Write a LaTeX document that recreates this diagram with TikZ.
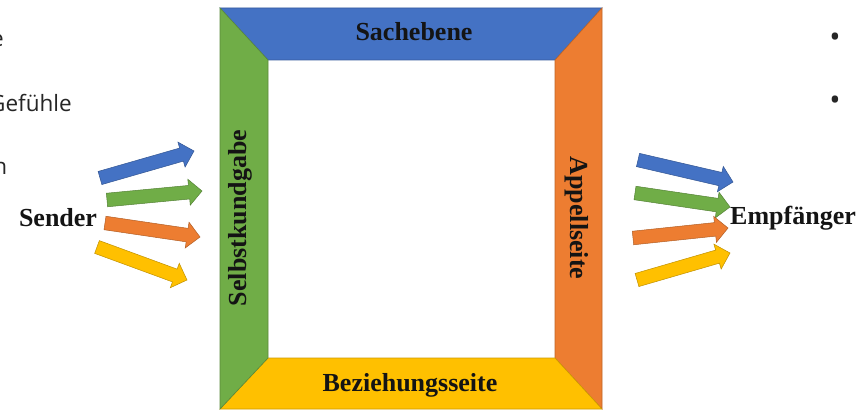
\documentclass[tikz,border=0pt]{standalone}
\usepackage{fontspec}
\setmainfont{Liberation Serif}
\newfontfamily\sansfnt{Open Sans}
\usetikzlibrary{calc}
\definecolor{cblue}{HTML}{4472C4}
\definecolor{cgreen}{HTML}{70AD47}
\definecolor{corange}{HTML}{ED7D31}
\definecolor{cyellow}{HTML}{FFC000}
\tikzset{
  lbl/.style={font=\fontsize{26}{30}\selectfont\bfseries, inner sep=0pt, text=black!92},
  frag/.style={font=\sansfnt\fontsize{22.5}{26}\selectfont, inner sep=0pt, text=black!85, anchor=base east},
  bul/.style={font=\sansfnt\fontsize{30}{34}\selectfont, inner sep=0pt, text=black!85},
  band/.style={fill=#1, draw=#1!80!black, line width=0.6pt, line join=miter},
}
\newcommand\fatarrow[3]{%
  \coordinate (fH) at ($(#2)!13pt!(#1)$);
  \filldraw[fill=#3, draw=#3!75!black, line width=0.5pt, line join=miter]
    ($(#1)!6.8pt!-90:(#2)$) -- ($(fH)!6.8pt!90:(#1)$) -- ($(fH)!13pt!90:(#1)$)
    -- (#2) -- ($(fH)!13pt!-90:(#1)$) -- ($(fH)!6.8pt!-90:(#1)$)
    -- ($(#1)!6.8pt!90:(#2)$) -- cycle;
}
\begin{document}
\begin{tikzpicture}[x=1pt,y=-1pt]
\useasboundingbox (0,0) rectangle (858,411);
\clip (0,0) rectangle (858,411);
\fill[white] (0,0) rectangle (858,411);
% frame corners
\coordinate (O1) at (220,8);
\coordinate (O2) at (602,8);
\coordinate (O3) at (602,409);
\coordinate (O4) at (220,409);
\coordinate (I1) at (268,60);
\coordinate (I2) at (555,60);
\coordinate (I3) at (555,358);
\coordinate (I4) at (268,358);
\draw[band=cblue] (O1) -- (O2) -- (I2) -- (I1) -- cycle;
\draw[band=corange] (O2) -- (O3) -- (I3) -- (I2) -- cycle;
\draw[band=cyellow] (O3) -- (O4) -- (I4) -- (I3) -- cycle;
\draw[band=cgreen] (O4) -- (O1) -- (I1) -- (I4) -- cycle;
\node[lbl] (sach) at (414,32) {Sachebene};
\node[lbl] (bez) at (410,385) {Beziehungsseite};
\node[lbl, rotate=90] (selbst) at (240,218) {Selbstkundgabe};
\node[lbl, rotate=-90] (appell) at (577,218) {Appellseite};
% sender / receiver
\node[lbl, anchor=base] (sender) at (58,227) {Sender};
\node[lbl, anchor=base] (empf) at (793,225) {Empfänger};
% arrows left
\coordinate (lb1) at (100,178); \coordinate (lb2) at (194,151);
\coordinate (lg1) at (107,200); \coordinate (lg2) at (202,191);
\coordinate (lo1) at (105,223); \coordinate (lo2) at (200,237);
\coordinate (ly1) at (97,247);  \coordinate (ly2) at (187,280);
\fatarrow{lb1}{lb2}{cblue}
\fatarrow{lg1}{lg2}{cgreen}
\fatarrow{lo1}{lo2}{corange}
\fatarrow{ly1}{ly2}{cyellow}
% arrows right
\coordinate (rb1) at (638,160); \coordinate (rb2) at (733,182);
\coordinate (rg1) at (635,193); \coordinate (rg2) at (730,207);
\coordinate (ro1) at (633,238); \coordinate (ro2) at (728,228);
\coordinate (ry1) at (637,280); \coordinate (ry2) at (730,253);
\fatarrow{rb1}{rb2}{cblue}
\fatarrow{rg1}{rg2}{cgreen}
\fatarrow{ro1}{ro2}{corange}
\fatarrow{ry1}{ry2}{cyellow}
% cut-off text fragments
\node[frag] (f1) at (4,47) {e};
\node[frag] (f2) at (72,112) {Gefühle};
\node[frag] (f3) at (7.5,175) {n};
\node[bul] (b1) at (835,40) {•};
\node[bul] (b2) at (835,103) {•};
\end{tikzpicture}
\end{document}
